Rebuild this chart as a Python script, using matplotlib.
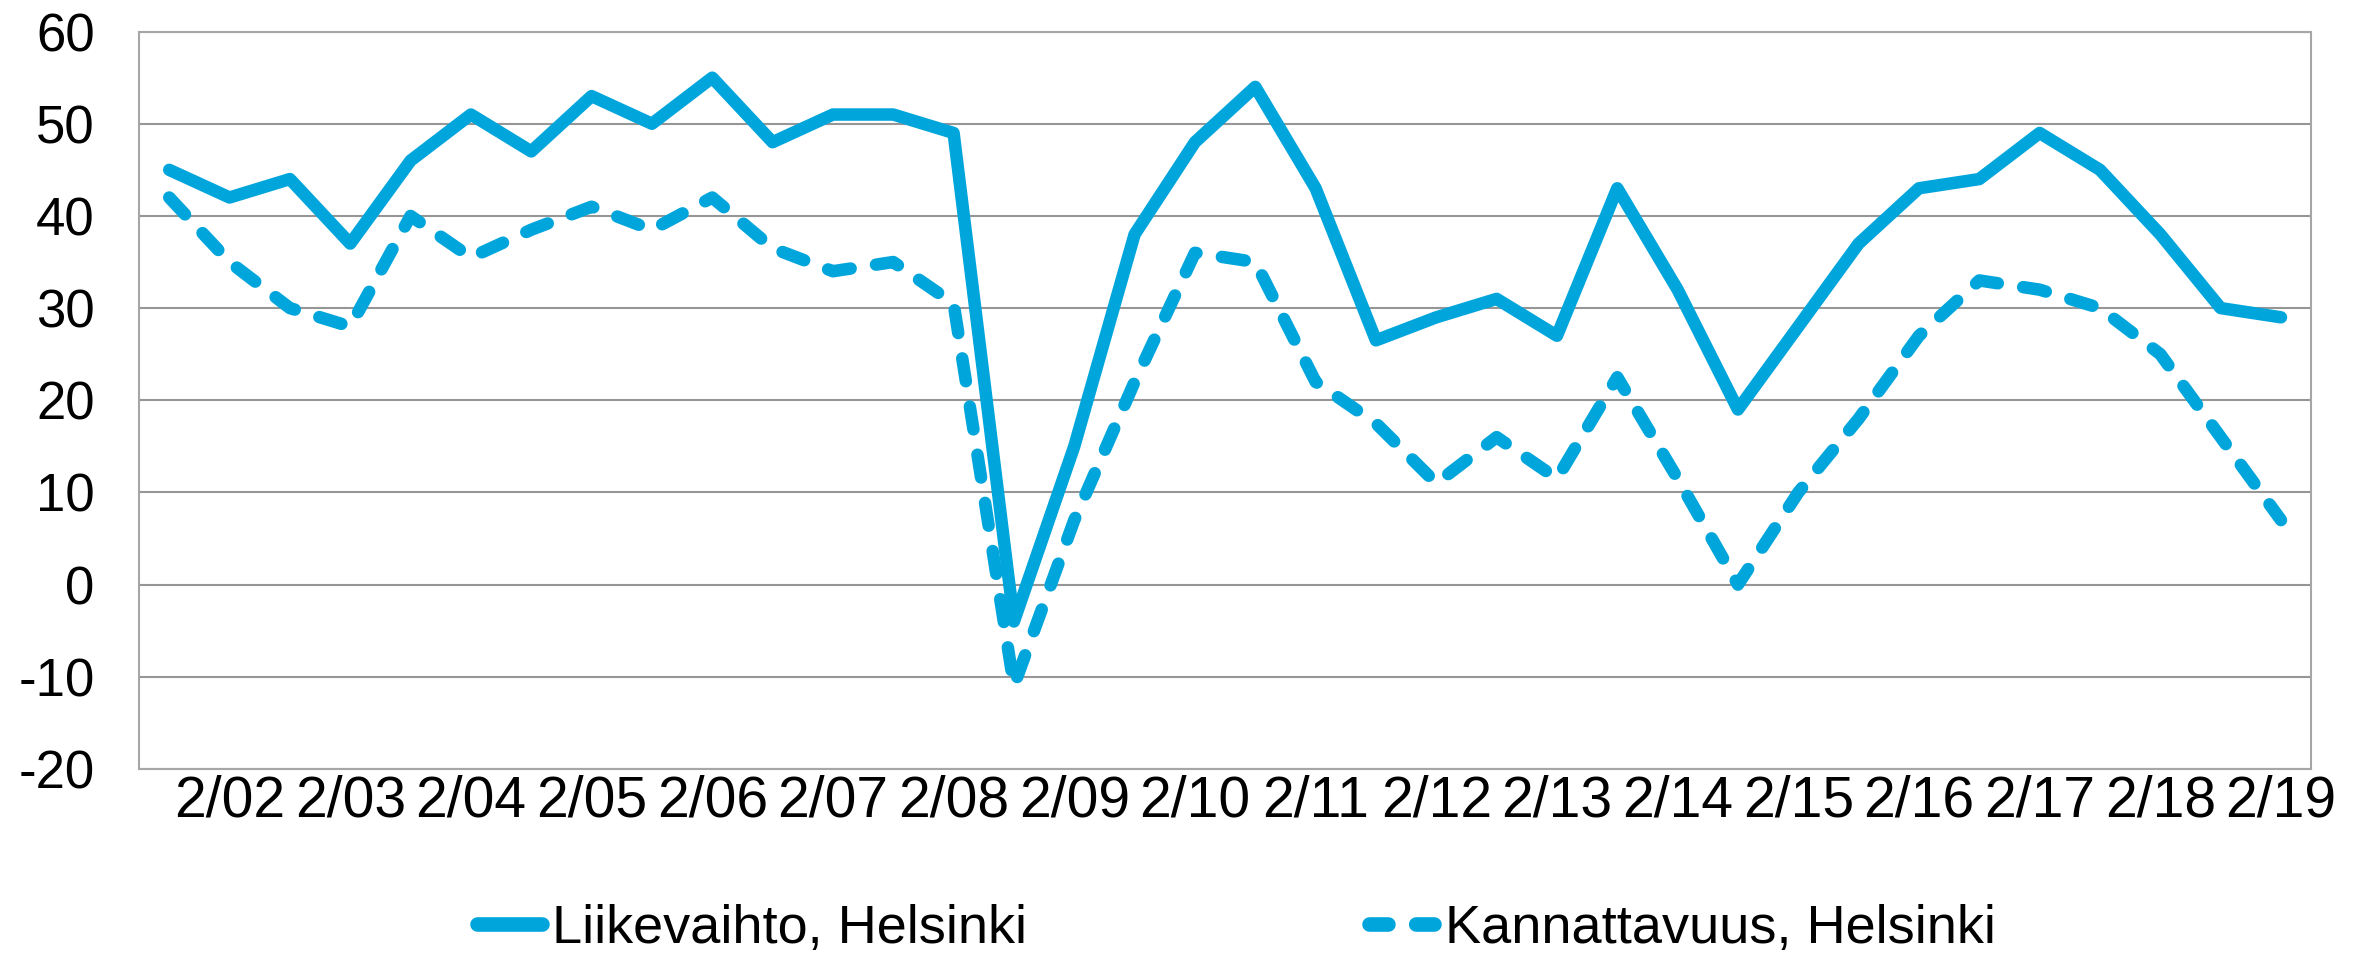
import matplotlib.pyplot as plt
from matplotlib.lines import Line2D

# Half-year survey points, Aug 2001 .. Feb 2019 (only February points get a label)
periods = ['', '2/02', '', '2/03', '', '2/04', '', '2/05', '', '2/06', '', '2/07',
           '', '2/08', '', '2/09', '', '2/10', '', '2/11', '', '2/12', '', '2/13',
           '', '2/14', '', '2/15', '', '2/16', '', '2/17', '', '2/18', '', '2/19']

liikevaihto = [45, 42, 44, 37, 46, 51, 47, 53, 50, 55, 48, 51,
               51, 49, -4, 15, 38, 48, 54, 43, 26.5, 29, 31, 27,
               43, 32, 19, 28, 37, 43, 44, 49, 45, 38, 30, 29]
kannattavuus = [42, 35, 30, 28, 40, 35.5, 38.5, 41, 38.5, 42, 36.5, 34,
                35, 30.5, -11, 7, 22, 36, 35, 22, 17.5, 11, 16, 11.5,
                22.5, 11.5, 0, 10, 18, 27, 33, 32, 30, 25, 16, 7]

blue = '#00A5DB'
grid_col = '#969696'

plt.rcParams['font.family'] = ['Liberation Sans', 'DejaVu Sans']
plt.rcParams['axes.unicode_minus'] = False

fig = plt.figure(figsize=(23.77, 9.6), dpi=100)
ax = fig.add_axes([0.0585, 0.199, 0.9138, 0.7681])

x = list(range(len(periods)))
ax.plot(x, liikevaihto, color=blue, lw=9, solid_joinstyle='round',
        solid_capstyle='round', label='Liikevaihto, Helsinki')
ax.plot(x, kannattavuus, color=blue, lw=9, dashes=(1.85, 2.05),
        dash_capstyle='round', dash_joinstyle='round', label='Kannattavuus, Helsinki')

ax.set_xlim(-0.5, len(periods) - 0.5)
ax.set_ylim(-20, 60)
ax.set_yticks(range(-20, 61, 10))
ax.set_xticks(x)
ax.set_xticklabels(periods)
ax.tick_params(axis='y', length=0, labelsize=38, pad=32)
ax.tick_params(axis='x', length=0, labelsize=41, pad=4)

ax.grid(axis='y', color=grid_col, lw=1.5)
ax.set_axisbelow(True)
for s in ax.spines.values():
    s.set_color('#A6A6A6')
    s.set_linewidth(1.5)

handles = [Line2D([], [], color=blue, lw=10.5, solid_capstyle='round'),
           Line2D([], [], color=blue, lw=10.5, dashes=(1.3, 1.9), dash_capstyle='round')]
fig.legend(handles, ['Liikevaihto, Helsinki', 'Kannattavuus, Helsinki'],
           loc='center', bbox_to_anchor=(0.52, 0.032), ncol=2, frameon=False,
           fontsize=39, handlelength=1.2, handletextpad=0.2, columnspacing=6.3)

fig.savefig('out.png', dpi=100)
